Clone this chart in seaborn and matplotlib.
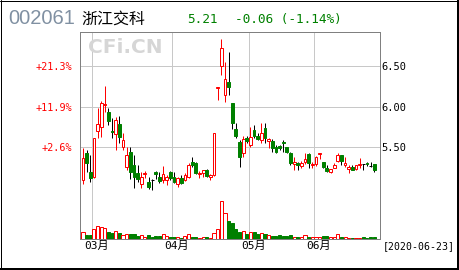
import matplotlib
matplotlib.use("Agg")
import matplotlib.pyplot as plt
import seaborn as sns
import pandas as pd
from matplotlib.lines import Line2D

# ---------------- data ----------------
opens = [5.09, 5.43, 5.19, 5.13, 5.70, 5.75, 6.02, 5.93, 5.70, 5.66,
         5.78, 5.50, 5.25, 5.44, 5.28, 5.18, 5.04, 5.17, 5.07, 5.09,
         5.19, 5.13, 5.09, 5.09, 5.19, 5.13, 5.04, 5.12, 5.09, 5.13,
         5.32, 5.30, 5.17, 5.18, 5.22, 5.13, 5.15, 6.23, 6.50, 6.14,
         6.30, 6.04, 5.72, 5.56, 5.42, 5.61, 5.52, 5.71, 5.64, 5.59,
         5.73, 5.58, 5.58, 5.50, 5.51, 5.56, 5.50, 5.43, 5.29, 5.30,
         5.27, 5.32, 5.41, 5.28, 5.29, 5.41, 5.32, 5.24, 5.19, 5.24,
         5.33, 5.40, 5.28, 5.23, 5.25, 5.23, 5.28, 5.29, 5.30, 5.27,
         5.29]
highs = [5.49, 5.46, 5.40, 5.61, 5.98, 6.07, 6.25, 5.98, 5.86, 5.87,
         5.88, 5.67, 5.50, 5.50, 5.40, 5.28, 5.19, 5.20, 5.13, 5.10,
         5.20, 5.19, 5.27, 5.15, 5.20, 5.19, 5.13, 5.15, 5.18, 5.30,
         5.38, 5.32, 5.20, 5.22, 5.23, 5.17, 5.67, 6.24, 6.83, 6.55,
         6.67, 6.04, 5.80, 5.59, 5.64, 5.63, 5.75, 5.77, 5.67, 5.80,
         5.80, 5.61, 5.60, 5.53, 5.53, 5.59, 5.50, 5.44, 5.38, 5.32,
         5.33, 5.43, 5.42, 5.31, 5.39, 5.42, 5.32, 5.28, 5.23, 5.30,
         5.43, 5.40, 5.38, 5.28, 5.28, 5.28, 5.36, 5.29, 5.31, 5.31,
         5.29]
lows = [5.04, 5.19, 5.07, 5.12, 5.61, 5.62, 5.93, 5.77, 5.61, 5.46,
        5.55, 5.46, 5.22, 5.10, 4.99, 5.07, 4.99, 5.12, 4.98, 4.97,
        5.11, 5.05, 5.06, 5.03, 5.09, 5.06, 5.01, 5.04, 5.08, 5.12,
        5.25, 5.17, 5.12, 5.13, 5.13, 5.09, 5.14, 6.08, 6.39, 6.06,
        6.14, 5.72, 5.61, 5.25, 5.38, 5.55, 5.50, 5.61, 5.59, 5.55,
        5.55, 5.49, 5.44, 5.43, 5.46, 5.44, 5.42, 5.28, 5.22, 5.22,
        5.24, 5.29, 5.24, 5.24, 5.27, 5.35, 5.24, 5.19, 5.18, 5.24,
        5.31, 5.28, 5.25, 5.18, 5.21, 5.22, 5.24, 5.22, 5.26, 5.25,
        5.19]
closes = [5.36, 5.30, 5.12, 5.61, 5.78, 6.04, 6.03, 5.82, 5.68, 5.83,
          5.62, 5.59, 5.40, 5.19, 5.13, 5.11, 5.13, 5.18, 5.01, 5.09,
          5.17, 5.08, 5.17, 5.13, 5.12, 5.07, 5.12, 5.06, 5.15, 5.28,
          5.28, 5.18, 5.18, 5.22, 5.14, 5.15, 5.67, 6.24, 6.72, 6.34,
          6.24, 5.80, 5.64, 5.38, 5.60, 5.57, 5.62, 5.63, 5.60, 5.67,
          5.61, 5.60, 5.49, 5.44, 5.49, 5.55, 5.44, 5.30, 5.32, 5.28,
          5.30, 5.35, 5.30, 5.29, 5.38, 5.42, 5.25, 5.20, 5.23, 5.28,
          5.40, 5.33, 5.30, 5.25, 5.21, 5.28, 5.29, 5.29, 5.29, 5.27,
          5.21]
volumes = [7.0, 4.3, 4.3, 10.0, 13.3, 12.0, 11.3, 7.6, 6.0, 8.0,
           6.0, 4.0, 5.3, 5.3, 5.3, 3.7, 4.3, 2.7, 4.3, 2.7,
           3.3, 3.3, 5.3, 3.3, 2.0, 2.0, 2.0, 1.7, 3.3, 5.3,
           2.7, 2.0, 1.0, 2.0, 2.0, 1.0, 6.0, 10.3, 38.3, 26.3,
           18.5, 16.3, 10.2, 7.6, 8.5, 5.3, 7.0, 7.3, 5.5, 6.0,
           5.3, 4.0, 3.3, 3.3, 4.0, 3.3, 3.3, 4.3, 2.7, 2.3,
           2.7, 4.0, 2.7, 2.0, 2.7, 2.7, 3.3, 3.3, 2.0, 2.7,
           5.0, 2.7, 2.7, 1.7, 1.7, 1.7, 1.7, 2.3, 1.7, 2.3,
           2.3]
month_labels = ["03月", "04月", "05月", "06月"]
month_start_idx = [3, 25, 46, 64]
price_ticks = [5.50, 6.00, 6.50]
base_price = 5.36
title_code = "002061"
title_name = "浙江交科"
last_price = "5.21"
change_text = "-0.06 (-1.14%)"
date_text = "[2020-06-23]"
watermark = "CFi.CN"

# ---------------- style ----------------
sns.set_theme(style="white")
plt.rcParams['font.family'] = ['DejaVu Sans Mono', 'Noto Sans CJK SC']

RED = "#ff0000"
GREEN = "#008000"
GRID = "#c8c8c8"
FRAME = "#808080"
PX = 0.72  # one pixel in points at dpi 100

W, H = 460, 270
fig = plt.figure(figsize=(W / 100, H / 100), dpi=100)
fig.patch.set_facecolor("white")

ax_l, ax_r, ax_t, ax_b = 80, 380, 32, 239.3
ax = fig.add_axes([ax_l / W, 1 - ax_b / H, (ax_r - ax_l) / W, (ax_b - ax_t) / H])
ax.set_facecolor("white")

df = pd.DataFrame({"open": opens, "high": highs, "low": lows,
                   "close": closes, "volume": volumes})
df["idx"] = range(len(df))

def kind(o, c):
    if c > o:
        return "up"
    if c < o:
        return "down"
    return "flat"

df["kind"] = [kind(o, c) for o, c in zip(df["open"], df["close"])]

# price scale: 6.50 at y=66px, 81px per 1.0
y_top = 6.5 + (66 - ax_t) / 81
y_bot = 6.5 - (ax_b - 66) / 81
ax.set_ylim(y_bot, y_top)
x_left = (ax_l - 83) / 3.64
x_right = (ax_r - 83) / 3.64
ax.set_xlim(x_left, x_right)

# grid
for p in price_ticks:
    ax.axhline(p, color=GRID, lw=PX, zorder=0)
for m in month_start_idx:
    ax.axvline(m - 0.5, color=GRID, lw=PX, zorder=0)

# candles
bw = 0.78
for _, r in df.iterrows():
    k = r["kind"]
    if k == "up":
        wick_c, face, edge = RED, "white", RED
    elif k == "down":
        wick_c, face, edge = "black", GREEN, GREEN
    else:
        wick_c, face, edge = "black", "black", "black"
    ax.vlines(r["idx"], r["low"], r["high"], color=wick_c, lw=PX, zorder=2)
    lo = min(r["open"], r["close"])
    hgt = abs(r["close"] - r["open"])
    if hgt == 0:
        ax.hlines(lo, r["idx"] - bw / 2, r["idx"] + bw / 2, color=edge, lw=PX, zorder=3)
    else:
        ax.bar(r["idx"], hgt, bottom=lo, width=bw, facecolor=face,
               edgecolor=edge, linewidth=PX, zorder=3)

# volume on twin axis
ax2 = ax.twinx()
ax2.set_ylim(0, ax_b - ax_t)
for _, r in df.iterrows():
    if r["kind"] == "up":
        face, edge = "white", RED
    else:
        face, edge = GREEN, GREEN
    ax2.bar(r["idx"], r["volume"], width=0.85, facecolor=face,
            edgecolor=edge, linewidth=PX, zorder=3)
ax2.set_yticks([])
for s in ax2.spines.values():
    s.set_visible(False)

# spines
for s in ax.spines.values():
    s.set_color(FRAME)
    s.set_linewidth(PX)

# left ticks: percent
ax.set_yticks(price_ticks)
ax.set_yticklabels([f"+{(p / base_price - 1) * 100:.1f}%" for p in price_ticks])
ax.tick_params(axis="y", length=0, pad=5.3, labelsize=7.3, labelcolor=RED)

# right ticks: price
sec = ax.secondary_yaxis("right")
sec.set_yticks(price_ticks)
sec.set_yticklabels([f"{p:.2f}" for p in price_ticks])
sec.tick_params(axis="y", length=0, pad=0.8, labelsize=7.5, labelcolor="black")
for s in sec.spines.values():
    s.set_visible(False)

# month labels
ax.set_xticks([m + 0.8 for m in month_start_idx])
ax.set_xticklabels(month_labels)
ax.tick_params(axis="x", length=0, pad=0.8, labelsize=8, labelcolor="black")

# header texts
fig.text(8 / W, 1 - 18.5 / H, title_code, fontsize=14.5, color="#8090a2",
         family=["Liberation Sans", "DejaVu Sans"], va="center", ha="left")
fig.text(81 / W, 1 - 19.5 / H, title_name, fontsize=11.5, color="black",
         family=["Noto Sans CJK SC"], va="center", ha="left")
fig.text(187 / W, 1 - 19.5 / H, last_price, fontsize=9.2, color=GREEN,
         va="center", ha="left")
fig.text(235 / W, 1 - 19.5 / H, change_text, fontsize=9.2, color=GREEN,
         va="center", ha="left")
fig.text(88 / W, 1 - 47.5 / H, watermark, fontsize=14.5, color="#d6d6d6",
         family=["DejaVu Sans"], weight="bold", va="center", ha="left", zorder=0)
fig.text(383 / W, 1 - 246.5 / H, date_text, fontsize=7.1, color="black",
         va="center", ha="left")

# outer frame
def fig_line(x0, y0, x1, y1, lw):
    fig.add_artist(Line2D([x0 / W, x1 / W], [1 - y0 / H, 1 - y1 / H],
                          color="black", lw=lw * PX, transform=fig.transFigure))

fig_line(0.5, 0, 0.5, H, 1)
fig_line(0, 0.5, W, 0.5, 1)
fig_line(458.5, 0, 458.5, H, 2)
fig_line(0, 268.5, W, 268.5, 2)

fig.savefig("out.png", dpi=100, facecolor="white")
